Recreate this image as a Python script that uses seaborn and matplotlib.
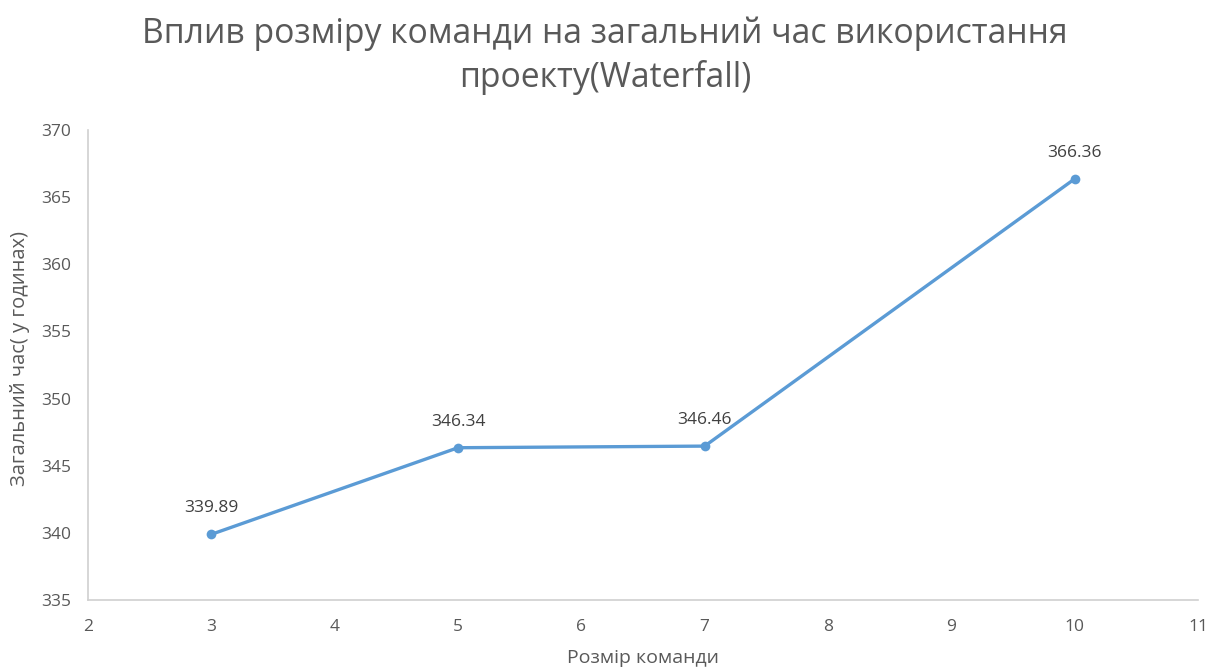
import matplotlib
matplotlib.use("Agg")
import matplotlib.pyplot as plt
import seaborn as sns
import pandas as pd

team_size = [3, 5, 7, 10]
total_hours = [339.89, 346.34, 346.46, 366.36]
title = "Вплив розміру команди на загальний час використання\nпроекту(Waterfall)"
xlabel = "Розмір команди"
ylabel = "Загальний час( у годинах)"

sns.set_theme(style="white")
plt.rcParams['font.family'] = ['Open Sans', 'DejaVu Sans']

df = pd.DataFrame({"x": team_size, "y": total_hours})
txt = "#595959"

fig = plt.figure(figsize=(12.11, 6.67), dpi=100)
ax = fig.add_axes([88/1211, 1-600/667, (1198-88)/1211, (600-130)/667])
sns.lineplot(data=df, x="x", y="y", ax=ax, color="#5B9BD5", linewidth=2.4,
             marker="o", markersize=7, markeredgewidth=0, markerfacecolor="#5B9BD5")

for xv, yv in zip(team_size, total_hours):
    ax.annotate(f"{yv:.2f}", (xv, yv), xytext=(0, 13), textcoords="offset points",
                ha="center", va="bottom", fontsize=12.5, color="#404040")

ax.set_xlim(2, 11)
ax.set_ylim(335, 370)
ax.set_xticks(range(2, 12))
ax.set_yticks(range(335, 371, 5))
ax.tick_params(axis="both", length=0, labelsize=12.5, labelcolor=txt, pad=12)
ax.tick_params(axis="x", pad=14)
for s in ["top", "right"]:
    ax.spines[s].set_visible(False)
for s in ["left", "bottom"]:
    ax.spines[s].set_color("#d0d0d0")
    ax.spines[s].set_linewidth(1.2)

ax.set_xlabel("")
ax.set_ylabel("")
fig.text(643/1211, 1-658/667, xlabel, ha="center", va="center", fontsize=14, color=txt)
fig.text(20/1211, 1-358/667, ylabel, ha="center", va="center", rotation=90, fontsize=14.5, color=txt)
fig.text(605/1211, 1-56/667, title, ha="center", va="center", fontsize=24.3, color=txt,
         linespacing=1.35)

fig.savefig("out.png", dpi=100)
